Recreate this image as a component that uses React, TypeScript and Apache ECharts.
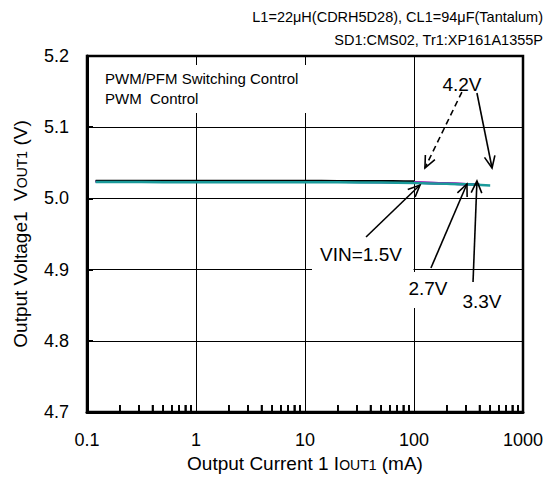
import React, { useEffect, useRef } from "react";
import * as echarts from "echarts";

const FONT = "'Liberation Sans', Arial, sans-serif";

const headerLines = [
  "L1=22\u03bcH(CDRH5D28), CL1=94\u03bcF(Tantalum)",
  "SD1:CMS02, Tr1:XP161A1355P",
];
const modeLabels = ["PWM/PFM Switching Control", "PWM  Control"];
const xTickLabels = ["0.1", "1", "10", "100", "1000"];
const xMin = 0.1;
const xMax = 1000;
const yMin = 4.7;
const yMax = 5.2;
const yStep = 0.1;

const seriesNames = ["VIN=1.5V", "2.7V", "3.3V", "4.2V"];
const seriesColors = ["#000000", "#c000c0", "#1a1a80", "#1a9a9a"];

const current15 = [0.12, 0.2, 0.5, 1, 2, 5, 10, 20, 50, 80, 100];
const vout15 = [5.0245, 5.0245, 5.0244, 5.0244, 5.0243, 5.0243, 5.0243, 5.0242, 5.024, 5.0238, 5.0236];

const current27 = [0.12, 0.5, 1, 5, 10, 50, 100, 200, 300];
const vout27 = [5.0238, 5.0236, 5.0234, 5.0234, 5.0234, 5.023, 5.0222, 5.0208, 5.02];

const current33 = [0.12, 0.5, 1, 5, 10, 50, 100, 200, 400];
const vout33 = [5.024, 5.0238, 5.0236, 5.0236, 5.0236, 5.0232, 5.0224, 5.021, 5.0193];

const current42 = [0.12, 0.2, 0.5, 1, 2, 5, 10, 20, 50, 100, 200, 300, 500];
const vout42 = [5.0232, 5.023, 5.0228, 5.0226, 5.0227, 5.0228, 5.0228, 5.0226, 5.0222, 5.0215, 5.0205, 5.0198, 5.0182];

const minorTicks = [
  0.2, 0.3, 0.4, 0.5, 0.6, 0.7, 0.8, 0.9,
  2, 3, 4, 5, 6, 7, 8, 9,
  20, 30, 40, 50, 60, 70, 80, 90,
  200, 300, 400, 500, 600, 700, 800, 900,
];

// [fromX, fromY, toX, toY, dashed]
const arrows = [
  [36.3, 4.9458, 113.5, 5.0188, 0],
  [143, 4.9022, 306, 5.0202, 0],
  [348, 4.8826, 378, 5.0244, 0],
  [275, 5.1494, 126, 5.0427, 1],
  [378, 5.148, 520, 5.0427, 0],
];

const zip = (xs: number[], ys: number[]) => xs.map((x, i) => [x, ys[i]]);

export default function App() {
  const ref = useRef<HTMLDivElement>(null);
  useEffect(() => {
    if (!ref.current) return;
    const chart = echarts.init(ref.current, null, { renderer: "svg" });
    const seriesData = [
      zip(current15, vout15),
      zip(current27, vout27),
      zip(current33, vout33),
      zip(current42, vout42),
    ];
    const drawOrder = [2, 1, 0, 3];
    const txt = (x: number, y: number, text: string, size: number, align: string) => ({
      type: "text",
      z: 10,
      x,
      y,
      style: { text, fontSize: size, fontFamily: FONT, fill: "#000", align, verticalAlign: "middle" },
    });
    const baseGraphic: any[] = [
      { type: "rect", z: 1, shape: { x: 95, y: 65, width: 215, height: 48 }, style: { fill: "#fff" } },
      { type: "rect", z: 1, shape: { x: 312, y: 232, width: 101.5, height: 40 }, style: { fill: "#fff" } },
      { type: "rect", z: 1, shape: { x: 400, y: 272, width: 55, height: 36 }, style: { fill: "#fff" } },
      txt(543, 17, headerLines[0], 14.5, "right"),
      txt(543, 40, headerLines[1], 14.5, "right"),
      txt(105, 78, modeLabels[0], 15, "left"),
      txt(105, 98, modeLabels[1], 15, "left"),
      txt(361, 254, seriesNames[0], 19, "center"),
      txt(428, 288, seriesNames[1], 19, "center"),
      txt(482, 301, seriesNames[2], 19, "center"),
      txt(462, 84, seriesNames[3], 19, "center"),
    ];
    const option: any = {
      animation: false,
      backgroundColor: "#ffffff",
      textStyle: { fontFamily: FONT },
      grid: {
        left: 87,
        right: 33,
        top: 56,
        bottom: 72,
        show: true,
        borderColor: "#000",
        borderWidth: 2.5,
      },
      xAxis: {
        type: "log",
        logBase: 10,
        min: xMin,
        max: xMax,
        name: "Output Current 1 I{s|OUT1} (mA)",
        nameLocation: "middle",
        nameGap: 37,
        nameTextStyle: {
          fontSize: 19,
          color: "#000",
          fontFamily: FONT,
          rich: { s: { fontSize: 14, fontFamily: FONT, color: "#000", verticalAlign: "bottom", padding: [0, 0, 1, 0] } },
        },
        axisLine: { show: true, onZero: false, lineStyle: { color: "#000", width: 3 } },
        axisTick: { show: false },
        axisLabel: {
          fontSize: 18,
          color: "#000",
          fontFamily: FONT,
          margin: 19,
          formatter: (v: number) => xTickLabels[Math.round(Math.log10(v)) + 1] ?? "",
        },
        splitLine: { show: true, lineStyle: { color: "#000", width: 1 } },
      },
      yAxis: {
        type: "value",
        min: yMin,
        max: yMax,
        interval: yStep,
        name: "Output Voltage1  V{s|OUT1} (V)",
        nameLocation: "middle",
        nameGap: 57,
        nameTextStyle: {
          fontSize: 19,
          color: "#000",
          fontFamily: FONT,
          rich: { s: { fontSize: 14, fontFamily: FONT, color: "#000", verticalAlign: "bottom", padding: [0, 0, 1, 0] } },
        },
        axisLine: { show: true, lineStyle: { color: "#000", width: 3 } },
        axisTick: { show: true, inside: true, length: 6, lineStyle: { color: "#000", width: 2 } },
        axisLabel: {
          fontSize: 18,
          color: "#000",
          fontFamily: FONT,
          margin: 18,
          formatter: (v: number) => v.toFixed(1),
        },
        splitLine: { show: true, lineStyle: { color: "#000", width: 1 } },
      },
      series: [
        {
          type: "custom",
          name: "minorTicks",
          data: minorTicks.map((v) => [v, yMin]),
          encode: { x: 0, y: 1 },
          renderItem: (_p: any, api: any) => {
            const a = api.coord([api.value(0), api.value(1)]);
            return {
              type: "rect",
              shape: { x: a[0] - 0.8, y: a[1] - 7, width: 1.6, height: 7 },
              style: { fill: "#000" },
            };
          },
        },
        ...drawOrder.map((k) => ({
          name: seriesNames[k],
          type: "line",
          data: seriesData[k],
          showSymbol: false,
          symbol: "none",
          smooth: 0.3,
          lineStyle: { color: seriesColors[k], width: 2.5 },
          z: 3,
          markLine:
            k === 3
              ? {
                  silent: true,
                  symbol: "none",
                  label: { show: false },
                  lineStyle: { color: "#000", width: 1.5, type: "solid" },
                  data: minorTicks.map((v) => [{ coord: [v, yMin] }, { coord: [v, yMin + 0.0098] }]),
                }
              : undefined,
        })),
        {
          type: "custom",
          name: "arrows",
          data: arrows,
          encode: { x: [0, 2], y: [1, 3] },
          z: 5,
          renderItem: (_p: any, api: any) => {
            const a = api.coord([api.value(0), api.value(1)]);
            const b = api.coord([api.value(2), api.value(3)]);
            const dashed = api.value(4) === 1;
            const ang = Math.atan2(b[1] - a[1], b[0] - a[0]);
            const L = 13;
            const H = 0.42;
            const h1 = [b[0] - L * Math.cos(ang - H), b[1] - L * Math.sin(ang - H)];
            const h2 = [b[0] - L * Math.cos(ang + H), b[1] - L * Math.sin(ang + H)];
            return {
              type: "group",
              children: [
                {
                  type: "line",
                  shape: { x1: a[0], y1: a[1], x2: b[0], y2: b[1] },
                  style: { stroke: "#000", lineWidth: 1.6, lineDash: dashed ? [6, 4] : null },
                },
                {
                  type: "polyline",
                  shape: { points: [h1, b, h2] },
                  style: { stroke: "#000", lineWidth: 1.6, fill: "none" },
                },
              ],
            };
          },
        },
      ],
      graphic: baseGraphic,
    };
    chart.setOption(option);
    // minor ticks placed through the chart's own log scale
    const tickGraphic = minorTicks.map((v) => {
      const p = chart.convertToPixel({ xAxisIndex: 0, yAxisIndex: 0 }, [v, yMin]) as number[];
      return {
        type: "line",
        z: 20,
        shape: { x1: p[0], y1: p[1], x2: p[0], y2: p[1] - 7 },
        style: { stroke: "#000", lineWidth: 1.5 },
      };
    });
    chart.setOption({ graphic: [...baseGraphic, ...tickGraphic] });
    return () => chart.dispose();
  }, []);
  return (
    <div
      ref={ref}
      style={{ position: "fixed", left: 0, top: 0, width: 556, height: 484, background: "#fff" }}
    />
  );
}
